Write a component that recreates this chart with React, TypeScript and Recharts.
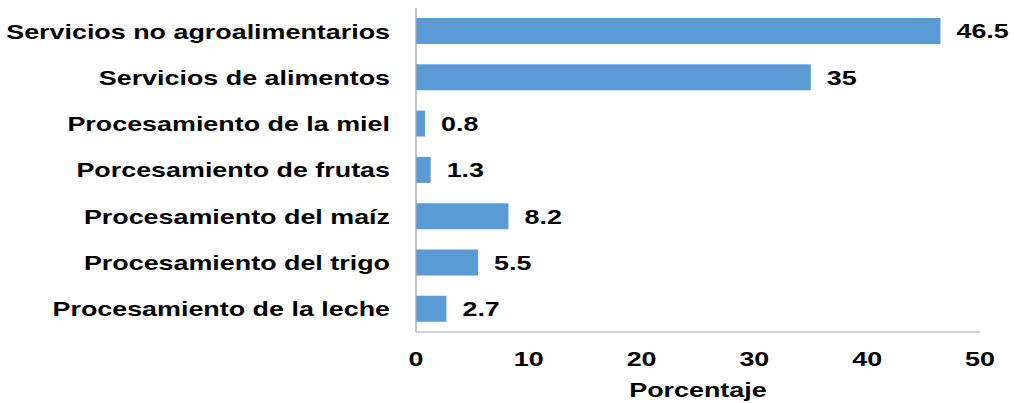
import { Bar, BarChart, LabelList, XAxis, YAxis } from 'recharts';

const categories = [
  'Servicios no agroalimentarios',
  'Servicios de alimentos',
  'Procesamiento de la miel',
  'Porcesamiento de frutas',
  'Procesamiento del maíz',
  'Procesamiento del trigo',
  'Procesamiento de la leche',
];
const values = [46.5, 35, 0.8, 1.3, 8.2, 5.5, 2.7];
const xTicks = [0, 10, 20, 30, 40, 50];

const data = categories.map((name, i) => ({ name, value: values[i] }));

// the reference text is stretched horizontally, so the whole chart is drawn narrow and scaled in x
const STRETCH = 1.28;
const W = 1014 / STRETCH;
const font = { fontFamily: '"Liberation Sans", Arial, sans-serif', fontWeight: 700, fontSize: 21 };

export default function App() {
  return (
    <div
      style={{
        position: 'absolute',
        left: 0,
        top: 0,
        width: W,
        height: 403,
        transform: `scaleX(${STRETCH})`,
        transformOrigin: '0 0',
        background: '#fff',
      }}
    >
      <BarChart
        width={W}
        height={403}
        data={data}
        layout="vertical"
        margin={{ top: 8, right: 26.6, bottom: 0, left: 0 }}
      >
        <XAxis
          type="number"
          domain={[0, 50]}
          ticks={xTicks}
          tickLine={false}
          tickSize={0}
          tickMargin={19}
          height={71}
          axisLine={{ stroke: '#a6a6a6' }}
          tick={{ ...font, fill: '#000' }}
          label={{ value: 'Porcentaje', position: 'insideBottom', offset: 6, style: { ...font, fill: '#000' } }}
        />
        <YAxis
          type="category"
          dataKey="name"
          width={325}
          tickLine={false}
          tickSize={0}
          tickMargin={20.3}
          axisLine={{ stroke: '#a6a6a6' }}
          tick={{ ...font, fill: '#000' }}
        />
        <Bar dataKey="value" fill="#5b9bd5" barSize={26} isAnimationActive={false}>
          <LabelList dataKey="value" position="right" offset={12.5} style={{ ...font, fill: '#000' }} />
        </Bar>
      </BarChart>
    </div>
  );
}
